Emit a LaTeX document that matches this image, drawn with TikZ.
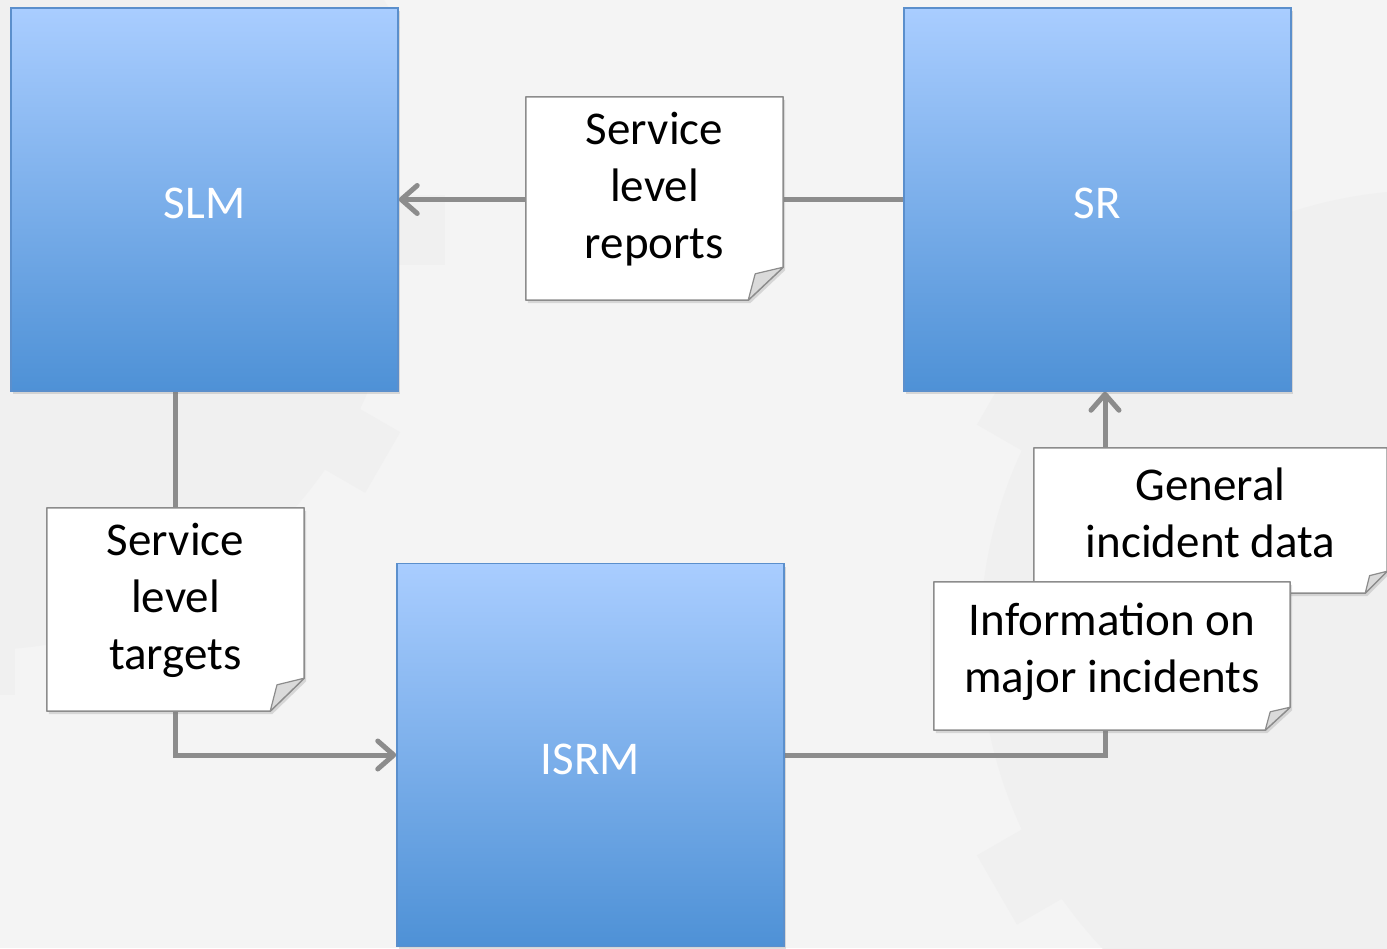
\documentclass[tikz,border=0pt]{standalone}
\usepackage{fontspec}
\setmainfont{Carlito}
\usetikzlibrary{arrows.meta,shadows,calc}
\definecolor{bgc}{HTML}{F4F4F4}
\definecolor{gearc}{HTML}{F0F0F0}
\definecolor{btop}{HTML}{A9CDFF}
\definecolor{bbot}{HTML}{4E91D6}
\definecolor{bline}{HTML}{5B8FCC}
\definecolor{connc}{HTML}{8C8C8C}
\definecolor{nline}{HTML}{8C8C8C}
\definecolor{foldc}{HTML}{DADADA}
\pgfdeclarelayer{bglayer}\pgfdeclarelayer{connlayer}\pgfdeclarelayer{notelayer}
\pgfsetlayers{bglayer,connlayer,notelayer,main}
\newcommand\notepaper[3]{%
  \path[notefill] (#1.north west) -- (#1.north east) -- ([shift={(0,-#3)}]#1.south east)
     -- ([shift={(-#2,0)}]#1.south east) -- (#1.south west) -- cycle;
  \path[foldfill] ([shift={(-#2,0)}]#1.south east) -- ([shift={(-0.8*#2,-0.8*#3)}]#1.south east)
     -- ([shift={(0,-#3)}]#1.south east) -- cycle;}
\newcommand\gearshape[5]{% cx, cy, R, tooth w, tooth h
  \fill[gearc] (#1,#2) circle (#3);
  \foreach \a in {0,30,...,330}
    \fill[gearc, rotate around={\a:(#1,#2)}] ($(#1,#2)+(-#4/2,-#3-#5)$) rectangle ($(#1,#2)+(#4/2,-#3+10)$);}
\newcommand\ntext[2]{\raisebox{#1}[\height][\depth]{\begin{tabular}{@{}c@{}}#2\end{tabular}}}
\newcommand\btext[1]{\raisebox{-4pt}[\height][\depth]{#1}}
\begin{document}
\begin{tikzpicture}[x=1pt,y=-1pt,
  proc/.style={rectangle, minimum width=387pt, minimum height=383pt, inner sep=0pt,
    top color=btop, bottom color=bbot, draw=bline, line width=1.5pt, text=white,
    font=\fontsize{47}{57}\selectfont,
    drop shadow={opacity=0.25, shadow xshift=2pt, shadow yshift=-3pt}},
  note/.style={rectangle, inner sep=0pt, align=center, text=black,
    font=\fontsize{47}{57}\selectfont},
  notefill/.style={fill=white, draw=nline, line width=1.5pt, line join=round,
    drop shadow={opacity=0.25, shadow xshift=2pt, shadow yshift=-3pt}},
  foldfill/.style={fill=foldc, draw=nline, line width=1.2pt, line join=round},
  flow/.style={draw=connc, line width=5pt,
    -{Straight Barb[length=16pt,width=28pt,round]}}]
\useasboundingbox (0,0) rectangle (1387,948);
\begin{pgfonlayer}{bglayer}
  \fill[bgc] (0,0) rectangle (1387,948);
  \gearshape{-20}{230}{420}{70}{45}
  \gearshape{1430}{640}{450}{80}{50}
\end{pgfonlayer}

% process boxes
\node[proc] (SLM)  at (204.5,199.5) {\btext{SLM}};
\node[proc] (SR)   at (1097.5,199.5) {\btext{SR}};
\node[proc] (ISRM) at (590.5,755) {\btext{ISRM}};

% notes (text)
\node[note, minimum width=257pt, minimum height=203pt] (rep) at (654.5,198.5) {\ntext{8pt}{Service\\level\\reports}};
\node[note, minimum width=257pt, minimum height=203pt] (tgt) at (175.5,609.5) {\ntext{8pt}{Service\\level\\targets}};
\node[note, minimum width=353pt, minimum height=145pt] (gen) at (1210.5,520.5) {\ntext{3pt}{General\\incident data}};
\node[note, minimum width=356pt, minimum height=148pt] (maj) at (1112,656) {\ntext{3pt}{Information on\\major incidents}};

\begin{pgfonlayer}{notelayer}
  \notepaper{rep}{35}{33}
  \notepaper{tgt}{34}{33}
  \notepaper{gen}{22}{22}
  \notepaper{maj}{25}{23}
\end{pgfonlayer}

\begin{pgfonlayer}{connlayer}
  \draw[flow] (SR.west) -- (SLM.east);
  \draw[flow] (SLM.south -| tgt.center) |- (ISRM.west);
  \draw[flow] (ISRM.east) -| ([xshift=7.5pt]SR.south);
\end{pgfonlayer}
\end{tikzpicture}
\end{document}
